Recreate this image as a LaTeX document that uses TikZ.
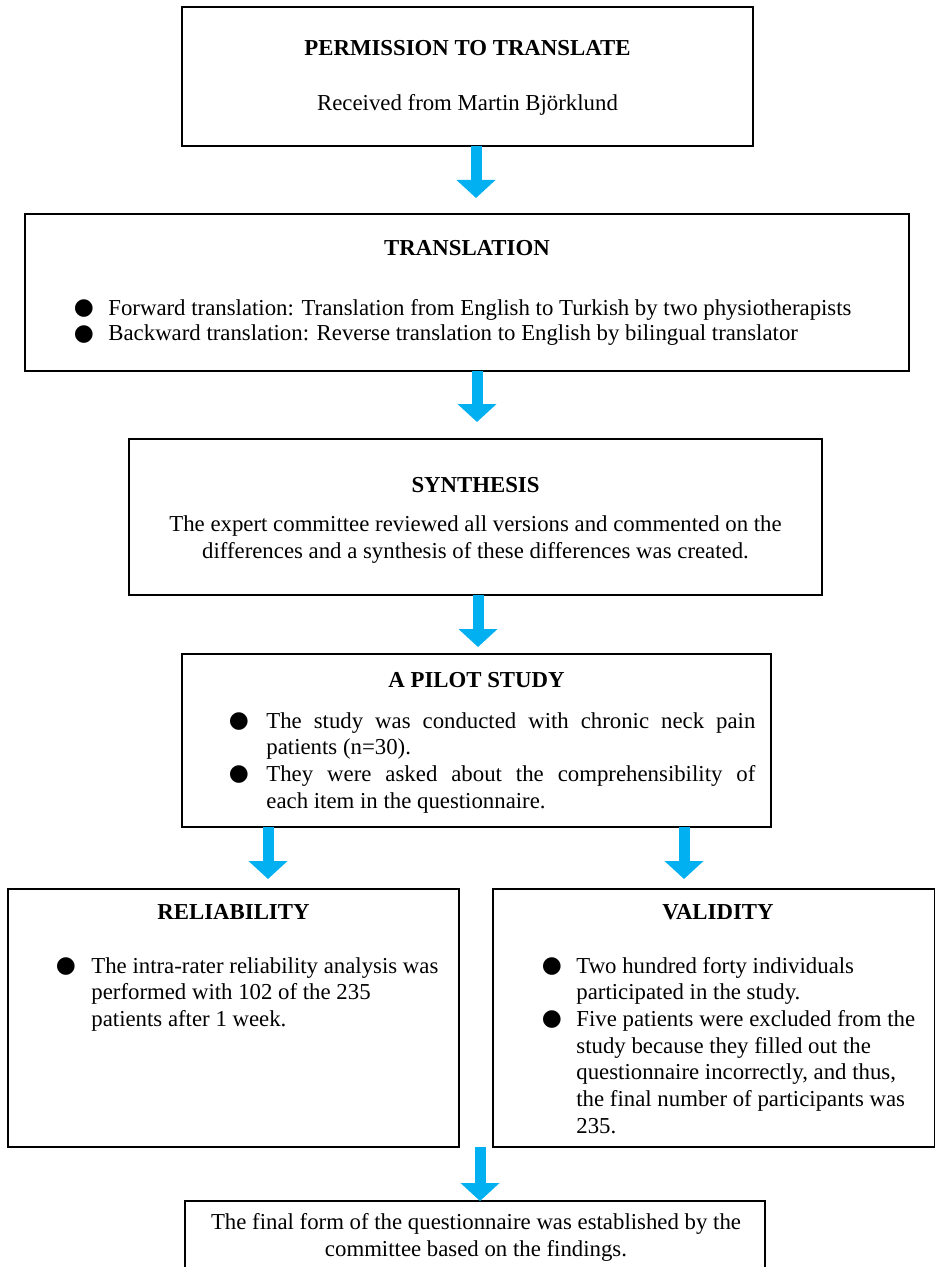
\documentclass[tikz,border=0pt]{standalone}
\usepackage{fontspec}
\setmainfont{Liberation Serif}
\newfontfamily\symfont{DejaVu Sans}
\usetikzlibrary{arrows.meta,calc}
\definecolor{arrowblue}{HTML}{00B0F0}
\begin{document}
\begin{tikzpicture}[x=0.5pt,y=-0.5pt,
  font=\fontsize{11.4}{13.3}\selectfont,
  box/.style={draw=black, line width=0.9pt, inner sep=0pt, outer sep=0pt},
  title/.style={font=\fontsize{11.4}{13.3}\selectfont\bfseries, inner sep=0pt, anchor=base},
  txt/.style={inner sep=0pt, anchor=base},
  txtl/.style={inner sep=0pt, anchor=base west},
  bul/.style={font=\symfont\fontsize{11.5}{12}\selectfont, inner sep=0pt, anchor=center},
  flow/.style={draw=arrowblue, line width=5.5pt, -{Triangle[width=19pt,length=9pt]}}]
\path[use as bounding box] (0,0) rectangle (936,1267);
\clip (0,0) rectangle (936,1267);
\fill[white] (0,0) rectangle (936,1267);

% boxes
\node[box, minimum width=285.5pt, minimum height=69.5pt] (b1) at (467.5,76.5) {};
\node[box, minimum width=442pt, minimum height=78.5pt] (b2) at (467,292.5) {};
\node[box, minimum width=346.5pt, minimum height=78pt] (b3) at (475.5,517) {};
\node[box, minimum width=294.5pt, minimum height=86.5pt] (b4) at (476.5,740.5) {};
\node[box, minimum width=225.5pt, minimum height=129pt] (b5) at (233.5,1018) {};
\node[box, minimum width=220.75pt, minimum height=129pt] (b6) at (713.75,1018) {};
\node[box, minimum width=290pt, minimum height=44.5pt] (b7) at (475,1245.5) {};

% box 1
\node[title] (t1) at (467.5,56) {PERMISSION TO TRANSLATE};
\node[txt] (s1) at (467.5,111) {Received from Martin Björklund};

% box 2
\node[title] (t2) at (467,256) {TRANSLATION};
\node[bul] (b2a) at (84,309) {●};
\node[txtl] (l2a) at (108,315) {Forward translation: Translation from English to Turkish by two physiotherapists};
\node[bul] (b2b) at (84,335) {●};
\node[txtl] (l2b) at (108,341) {Backward translation: Reverse translation to English by bilingual translator};

% box 3
\node[title] (t3) at (475.5,492) {SYNTHESIS};
\node[txt] (l3a) at (475.5,531) {The expert committee reviewed all versions and commented on the};
\node[txt] (l3b) at (475.5,558) {differences and a synthesis of these differences was created.};

% box 4
\node[title] (t4) at (476.5,687) {A PILOT STUDY};
\node[bul] (b4a) at (239,722) {●};
\node[txtl] (l4a) at (266,728) {\makebox[244.5pt][s]{The study was conducted with chronic neck pain}};
\node[txtl] (l4b) at (266,754) {patients (n=30).};
\node[bul] (b4b) at (239,775) {●};
\node[txtl] (l4c) at (266,781) {\makebox[244.5pt][s]{They were asked about the comprehensibility of}};
\node[txtl] (l4d) at (266,808) {each item in the questionnaire.};

% box 5
\node[title] (t5) at (233.5,919) {RELIABILITY};
\node[bul] (b5a) at (66,967) {●};
\node[txtl] (l5a) at (91,973) {The intra-rater reliability analysis was};
\node[txtl] (l5b) at (91,999) {performed with 102 of the 235};
\node[txtl] (l5c) at (91,1026) {patients after 1 week.};

% box 6
\node[title] (t6) at (718,919) {VALIDITY};
\node[bul] (b6a) at (552,967) {●};
\node[txtl] (l6a) at (576,973) {Two hundred forty individuals};
\node[txtl] (l6b) at (576,999) {participated in the study.};
\node[bul] (b6b) at (552,1020) {●};
\node[txtl] (l6c) at (576,1026) {Five patients were excluded from the};
\node[txtl] (l6d) at (576,1053) {study because they filled out the};
\node[txtl] (l6e) at (576,1079) {questionnaire incorrectly, and thus,};
\node[txtl] (l6f) at (576,1106) {the final number of participants was};
\node[txtl] (l6g) at (576,1133) {235.};

% box 7
\node[txt] (l7a) at (476,1229) {The final form of the questionnaire was established by the};
\node[txt] (l7b) at (476,1256) {committee based on the findings.};

% arrows
\draw[flow] ($(b1.south)+(8.5,0)$) -- ($(b2.north)+(9,-16)$);
\draw[flow] ($(b2.south)+(10,0)$) -- ($(b3.north)+(1.5,-17)$);
\draw[flow] ($(b3.south)+(2.5,0)$) -- ($(b4.north)+(1.5,-7)$);
\draw[flow] ($(b4.south)+(-208.5,0)$) -- ($(b5.north)+(34.5,-10)$);
\draw[flow] ($(b4.south)+(207.5,0)$) -- ($(b6.north)+(-29.75,-10)$);
\draw[flow] ($(b5.south east)!0.5!(b6.south west)+(4,0)$) -- ($(b7.north)+(5,0)$);
\end{tikzpicture}
\end{document}
